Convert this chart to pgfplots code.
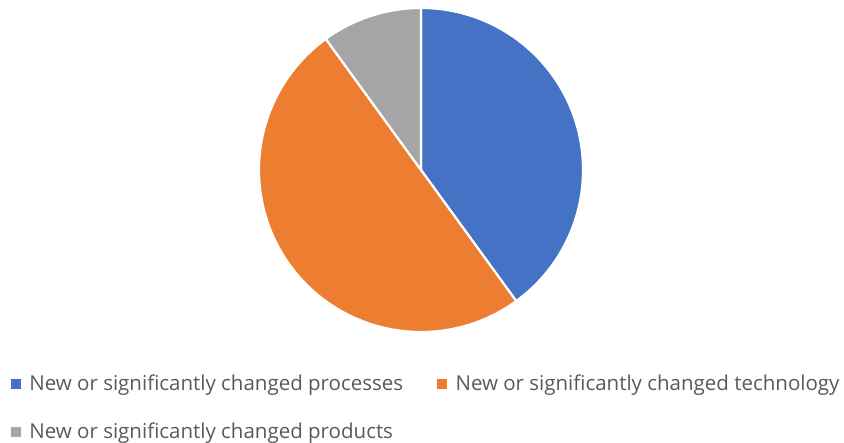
\documentclass[border=0pt]{standalone}
\usepackage{pgfplots}
\pgfplotsset{compat=1.18}
\usepackage{fontspec}
\setmainfont{Open Sans}
\definecolor{c1}{HTML}{4472C4}
\definecolor{c2}{HTML}{ED7D31}
\definecolor{c3}{HTML}{A5A5A5}
\definecolor{txt}{HTML}{595959}
% shares (percent), clockwise from 12 o'clock
\def\vA{40}\def\vB{50}\def\vC{10}
\def\cx{421}\def\cy{273}\def\rr{162}
\pgfmathsetmacro{\aA}{90}
\pgfmathsetmacro{\aB}{90-3.6*\vA}
\pgfmathsetmacro{\aC}{\aB-3.6*\vB}
\pgfmathsetmacro{\aD}{\aC-3.6*\vC}
\begin{document}
\begin{tikzpicture}
\begin{axis}[
  scale only axis, width=844pt, height=443pt,
  xmin=0, xmax=844, ymin=0, ymax=443,
  hide axis, clip=false,
  legend columns=2,
  legend cell align=left,
  legend style={at={(axis cs:11,68)}, anchor=north west, draw=none, fill=none,
    inner sep=0pt, outer sep=0pt,
    font=\fontsize{20.5}{24.5}\selectfont, text=txt,
    nodes={inner sep=0pt},
    row sep=30.5pt,
    /tikz/every even column/.append style={column sep=34pt}},
]
\filldraw[fill=c1, draw=white, line width=2.2pt, line join=round]
  (axis cs:\cx,\cy) -- ++(\aA:\rr pt) arc[start angle=\aA, end angle=\aB, radius=\rr pt] -- cycle;
\filldraw[fill=c2, draw=white, line width=2.2pt, line join=round]
  (axis cs:\cx,\cy) -- ++(\aB:\rr pt) arc[start angle=\aB, end angle=\aC, radius=\rr pt] -- cycle;
\filldraw[fill=c3, draw=white, line width=2.2pt, line join=round]
  (axis cs:\cx,\cy) -- ++(\aC:\rr pt) arc[start angle=\aC, end angle=\aD, radius=\rr pt] -- cycle;
\addlegendimage{legend image code/.code={\fill[c1] (0pt,-4.5pt) rectangle (9pt,4.5pt); \path (18pt,0pt);}}
\addlegendentry{New or significantly changed processes}
\addlegendimage{legend image code/.code={\fill[c2] (0pt,-4.5pt) rectangle (9pt,4.5pt); \path (18pt,0pt);}}
\addlegendentry{New or significantly changed technology}
\addlegendimage{legend image code/.code={\fill[c3] (0pt,-4.5pt) rectangle (9pt,4.5pt); \path (18pt,0pt);}}
\addlegendentry{New or significantly changed products}
\end{axis}
\pgfresetboundingbox
\path[use as bounding box] (0,0) rectangle (844pt,443pt);
\end{tikzpicture}
\end{document}
